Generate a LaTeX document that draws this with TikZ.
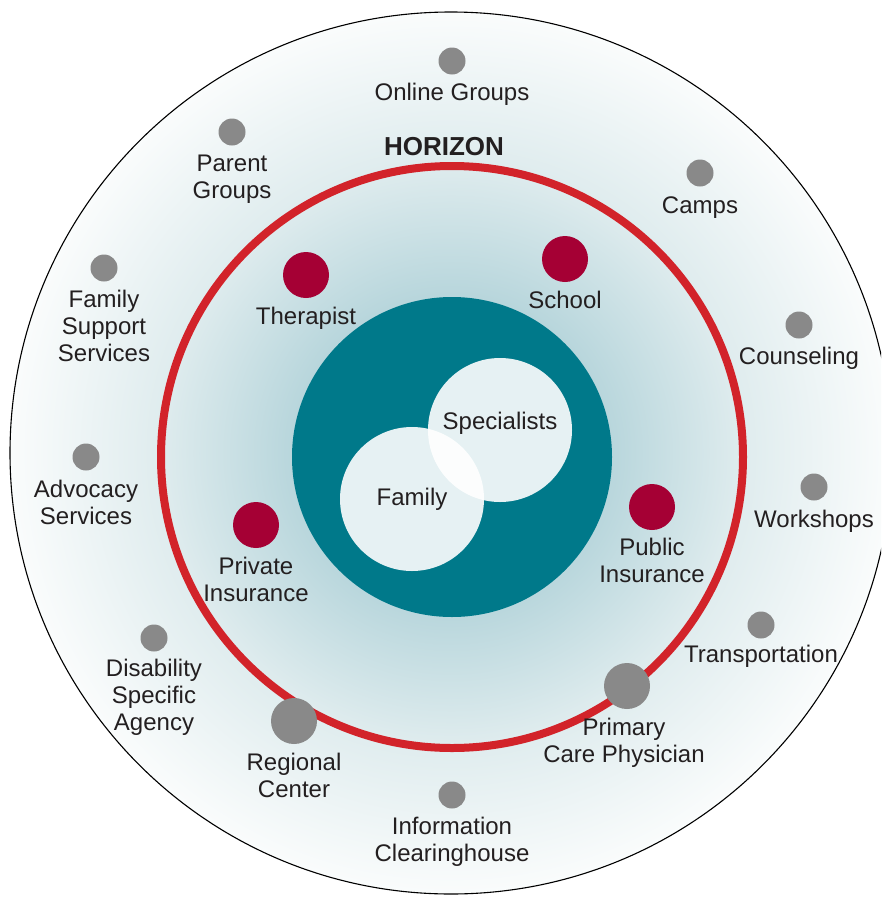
\documentclass[tikz,border=0pt]{standalone}
\usepackage{fontspec}
\setmainfont{Liberation Sans}
\definecolor{tealc}{HTML}{00798A}
\definecolor{redring}{HTML}{D2232A}
\definecolor{reddot}{HTML}{A50034}
\definecolor{graydot}{HTML}{898989}
\definecolor{txt}{HTML}{231F20}
\definecolor{g0}{HTML}{A8CDD4}
\definecolor{g1}{HTML}{B8D6DC}
\definecolor{g2}{HTML}{DFECEE}
\definecolor{g3}{HTML}{FAFCFC}
\pgfdeclareradialshading{glow}{\pgfpoint{0bp}{0bp}}{color(0bp)=(g0); color(9bp)=(g1); color(16.5bp)=(g2); color(25bp)=(g3); color(50bp)=(g3)}
\tikzset{
  lbl/.style={font=\fontsize{24}{27}\selectfont, text=txt, align=center, inner sep=0pt,
    execute at begin node=\strut, execute at end node=\strut},
  gdot/.style={circle, fill=graydot, minimum size=27pt, inner sep=0pt},
  bigdot/.style={circle, fill=graydot, minimum size=46pt, inner sep=0pt},
  rdot/.style={circle, fill=reddot, minimum size=46pt, inner sep=0pt},
  venn/.style={circle, fill=white, fill opacity=0.9, minimum size=144pt, inner sep=0pt}
}
\begin{document}
\begin{tikzpicture}[x=1pt,y=-1pt]
\useasboundingbox (0,0) rectangle (881,897);
\clip (0,0) rectangle (881,897);
\fill[white] (0,0) rectangle (881,897);
\coordinate (C) at (451,453);
\coordinate (R) at (452,457);
\shade[shading=glow] (C) circle (441pt);
\draw[black, line width=1.1pt] (C) circle (441pt);
\draw[redring, line width=8pt] (R) circle (291pt);
\node[circle, fill=tealc, minimum size=320pt, inner sep=0pt] (core) at (452,457) {};
\node[venn] (famc) at (412,499) {};
\node[venn] (specc) at (500,430) {};
\node[lbl] (fam) at (412,500) {Family};
\node[lbl] (spec) at (500,424) {Specialists};
\node[font=\fontsize{26}{30}\selectfont\bfseries, text=txt, inner sep=0pt] (hz) at (444,147) {HORIZON};
% red dots
\node[rdot] (d-ther) at (306,275) {};
\node[lbl] (l-ther) at (306,319) {Therapist};
\node[rdot] (d-school) at (565,259) {};
\node[lbl] (l-school) at (565,303) {School};
\node[rdot] (d-priv) at (256,525) {};
\node[lbl] (l-priv) at (256,583) {Private\\Insurance};
\node[rdot] (d-pub) at (652,507) {};
\node[lbl] (l-pub) at (652,564) {Public\\Insurance};
% gray dots
\node[gdot] (d-online) at (452,61) {};
\node[lbl] (l-online) at (452,95) {Online Groups};
\node[gdot] (d-parent) at (232,132) {};
\node[lbl] (l-parent) at (232,181) {Parent\\Groups};
\node[gdot] (d-camps) at (700,173) {};
\node[lbl] (l-camps) at (700,208) {Camps};
\node[gdot] (d-fss) at (104,268) {};
\node[lbl] (l-fss) at (104,330) {Family\\Support\\Services};
\node[gdot] (d-couns) at (799,325) {};
\node[lbl] (l-couns) at (799,359) {Counseling};
\node[gdot] (d-adv) at (86,457) {};
\node[lbl] (l-adv) at (86,506) {Advocacy\\Services};
\node[gdot] (d-work) at (814,487) {};
\node[lbl] (l-work) at (814,522) {Workshops};
\node[gdot] (d-dis) at (154,638) {};
\node[lbl] (l-dis) at (154,699) {Disability\\Specific\\Agency};
\node[gdot] (d-trans) at (761,625) {};
\node[lbl] (l-trans) at (761,657) {Transportation};
\node[bigdot] (d-reg) at (294,721) {};
\node[lbl] (l-reg) at (294,779) {Regional\\Center};
\node[bigdot] (d-pcp) at (627,686) {};
\node[lbl] (l-pcp) at (624,744) {Primary\\Care Physician};
\node[gdot] (d-info) at (452,795) {};
\node[lbl] (l-info) at (452,843) {Information\\Clearinghouse};
\end{tikzpicture}
\end{document}
